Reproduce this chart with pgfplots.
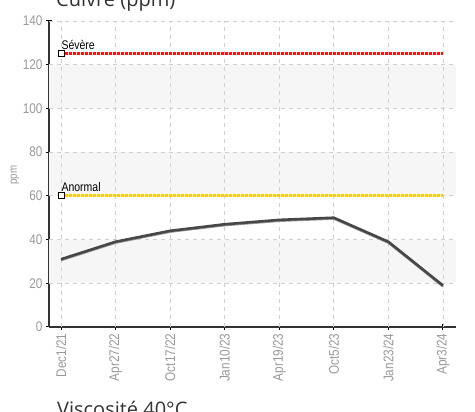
\documentclass[border=0pt]{standalone}
\usepackage{pgfplots}
\pgfplotsset{compat=1.18}
\usepackage{fontspec}
\setmainfont{Open Sans}
\newfontfamily\condfont[FakeStretch=0.84]{Liberation Sans}
\definecolor{tickgray}{HTML}{999999}
\definecolor{gridgray}{HTML}{D0D0D0}
\definecolor{bandgray}{HTML}{F6F6F6}
\definecolor{linegray}{HTML}{474747}
\definecolor{shadowgray}{HTML}{9A9A9A}
\definecolor{sevred}{HTML}{FF1010}
\definecolor{anoyellow}{HTML}{FFCC00}
\definecolor{titlegray}{HTML}{333333}
\begin{document}
\begin{tikzpicture}[x=1pt,y=1pt]
\begin{axis}[
  at={(49pt,85pt)}, anchor=south west,
  scale only axis, width=407pt, height=306pt,
  xmin=-0.22, xmax=7.24, ymin=0, ymax=140,
  xtick={0,...,7},
  xticklabels={Dec1/21,Apr27/22,Oct17/22,Jan10/23,Apr19/23,Oct5/23,Jan23/24,Apr3/24},
  ytick={0,20,...,140},
  axis lines=left,
  axis line style={-, draw=titlegray, line width=1.3pt},
  tick align=center,
  major tick length=6pt,
  tick style={draw=black, line width=1pt},
  unbounded coords=jump,
  /pgf/number format/assume math mode=true,
  tick label style={font=\condfont\fontsize{14}{14}\selectfont, color=tickgray},
  xticklabel style={rotate=90, anchor=east},
  clip=false,
]
\addplot[fill=bandgray, draw=none, forget plot]
  coordinates {(-0.22,20) (7.24,20) (7.24,40) (-0.22,40)} -- cycle;
\addplot[fill=bandgray, draw=none, forget plot]
  coordinates {(-0.22,60) (7.24,60) (7.24,80) (-0.22,80)} -- cycle;
\addplot[fill=bandgray, draw=none, forget plot]
  coordinates {(-0.22,100) (7.24,100) (7.24,120) (-0.22,120)} -- cycle;
\addplot[color=gridgray, line width=0.8pt, dash pattern=on 4pt off 4pt, forget plot]
  coordinates {(-0.22,20) (7.24,20) (nan,nan) (-0.22,40) (7.24,40) (nan,nan)
               (-0.22,60) (7.24,60) (nan,nan) (-0.22,80) (7.24,80) (nan,nan)
               (-0.22,100) (7.24,100) (nan,nan) (-0.22,120) (7.24,120) (nan,nan)
               (-0.22,140) (7.24,140)};
\addplot[color=gridgray, line width=0.8pt, dash pattern=on 4pt off 4pt, forget plot]
  coordinates {(0,0) (0,140) (nan,nan) (1,0) (1,140) (nan,nan) (2,0) (2,140) (nan,nan)
               (3,0) (3,140) (nan,nan) (4,0) (4,140) (nan,nan) (5,0) (5,140) (nan,nan)
               (6,0) (6,140) (nan,nan) (7,0) (7,140)};
\addplot[color=sevred, line width=3pt, dash pattern=on 3pt off 1pt,
  mark=square*, mark size=3pt, mark indices={1},
  mark options={solid, fill=white, draw=black, line width=1pt}]
  coordinates {(0,125) (7,125)};
\addplot[color=anoyellow, line width=3pt, dash pattern=on 3pt off 1pt,
  mark=square*, mark size=3pt, mark indices={1},
  mark options={solid, fill=white, draw=black, line width=1pt}]
  coordinates {(0,60) (7,60)};
\node[anchor=base west, xshift=-3pt, yshift=4pt, text=black,
       font=\condfont\fontsize{12.5}{12.5}\selectfont] at (axis cs:0,125) {Sévère};
\node[anchor=base west, xshift=-3pt, yshift=4pt, text=black,
       font=\condfont\fontsize{12.5}{12.5}\selectfont] at (axis cs:0,60) {Anormal};
\addplot[color=shadowgray, line width=2pt, line join=round]
  coordinates {(0,30.5) (1,38.5) (2,43.5) (3,46.5) (4,48.5) (5,49.5) (6,38.5) (7,18.5)};
\addplot[color=linegray, line width=2.6pt, line join=round]
  coordinates {(0,31) (1,39) (2,44) (3,47) (4,49) (5,50) (6,39) (7,19)};
\end{axis}
\node[rotate=90, color=tickgray, font=\condfont\fontsize{11.5}{11.5}\selectfont] at (15,237) {ppm};
\begin{scope}
\clip (0,0) rectangle (475,412);
\node[anchor=base west, inner sep=0pt, color=titlegray, font=\fontsize{20}{20}\selectfont] at (56,405) {Cuivre (ppm)};
\node[anchor=base west, inner sep=0pt, color=titlegray, font=\fontsize{20}{20}\selectfont] at (57,-5) {Viscosité 40°C};
\end{scope}
\pgfresetboundingbox
\useasboundingbox (0,0) rectangle (475,412);
\end{tikzpicture}
\end{document}
